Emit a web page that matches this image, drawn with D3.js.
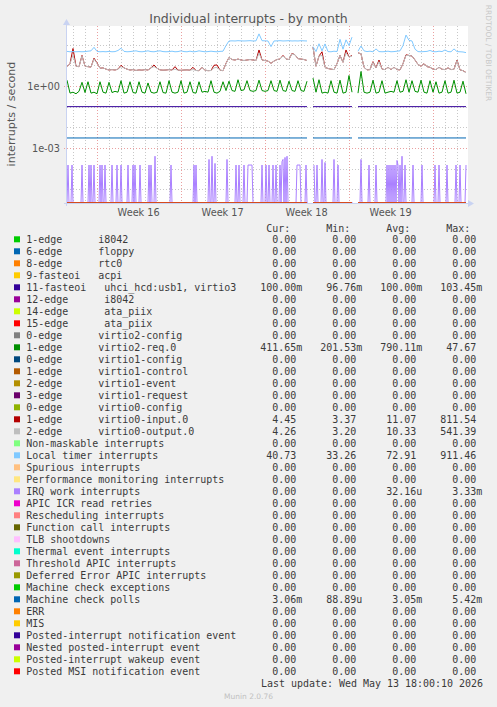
<!DOCTYPE html>
<html><head><meta charset="utf-8">
<script src="https://cdn.jsdelivr.net/npm/d3@7"></script>
<style>
body{margin:0;background:#f0f0f0;}
svg{display:block;}
text{white-space:pre;}
</style>
</head><body>
<svg id="chart" width="497" height="707"></svg>
<script>
// ---------- DATA ----------
// 6-hourly samples starting Fri Apr 10 2026 12:40 UTC (null = no data)
const T0 = Date.UTC(2026, 3, 10, 12, 40);
const STEP6H = 6 * 3600 * 1000;
const STEP2H = 2 * 3600 * 1000;
const N2H = 400;

const virtio2Req = [1.9,0.45,0.5,0.42,0.55,1.5,0.48,1.6,0.45,0.5,
 0.42,1.6,0.5,0.45,1.5,0.48,0.55,0.5,1.8,0.45,
 0.5,1.6,0.48,0.45,1.6,0.5,0.45,1.4,0.5,0.45,
 0.5,1.6,0.48,0.45,1.8,0.5,0.45,0.5,1.8,0.45,
 0.5,1.6,0.48,0.45,1.6,0.5,0.55,0.5,1.8,0.5,
 0.45,0.55,1.6,0.6,1.7,0.6,0.55,2.0,0.6,0.65,
 1.8,0.6,0.55,0.6,1.9,0.6,0.55,0.6,1.8,0.6,
 0.55,1.9,0.6,0.55,1.7,0.6,0.55,1.8,0.6,0.55,
 1.7,null,2.4,0.5,2.0,0.45,0.5,0.45,1.8,0.5,
 0.45,1.9,0.45,0.5,3.2,0.5,null,0.45,5.0,0.5,
 0.45,0.5,1.9,0.45,0.5,1.8,0.45,0.5,0.55,0.5,
 1.8,0.5,0.55,2.0,0.5,1.8,0.55,0.5,1.9,0.5,
 0.45,1.8,0.5,1.6,0.45,0.5,1.8,0.45,0.5,1.9,
 0.45,0.5,1.7,0.42];

const virtio0Input = [8.6,12,65,9,8.6,30,9,8.6,8.2,22,
 13,7.2,7.5,6.5,5.9,6.2,5.9,6.5,10,7.5,
 6.5,5.9,6.2,5.6,6.0,5.8,6.2,5.9,7.5,10.4,
 7.2,6.0,5.8,5.9,6.2,5.9,8.6,5.8,5.7,5.9,
 6.0,5.8,8.0,5.6,5.5,8.0,5.8,5.5,5.6,10,
 10.4,5.8,5.5,12.5,24,19,18,20,18,17,
 18,19,18,17,55,18,17,16,12.5,16,
 19,20,30,20,19,38,32,21,20,19,
 17,null,75,9,28,45,8,7,6.5,6.2,
 12,30,14,55,25,30,null,40,36,8,
 6,6.2,15,7.5,18,6.5,6.2,8,6.2,8,
 6.2,6.0,12,32,30,28,18,11,9,12,
 8.6,8.0,6.5,6.2,8.0,6.4,6.2,7.5,6.2,6.4,
 18,6.0,5.5,4.45];

const virtio0Output = [8.6,12,32,9,8.6,28,9,8.6,8.2,20,
 12.5,7.2,7.5,6.5,5.9,6.2,5.9,6.5,8.6,7.5,
 6.5,5.9,6.2,5.6,6.0,5.8,6.2,5.9,7.5,8.6,
 7.2,6.0,5.8,5.9,6.2,5.9,6.5,5.8,5.7,5.9,
 6.0,5.8,6.2,5.6,5.5,8.0,5.8,5.5,5.6,7.5,
 8.0,5.8,5.5,12,24,19,18,20,18,17,
 18,19,18,17,38,18,17,16,12.5,16,
 19,20,28,20,19,36,32,21,20,19,
 17,null,75,9,28,30,8,7,6.5,6.2,
 12,30,14,40,25,28,null,40,36,8,
 6,6.2,14,7.5,15,6.5,6.2,8,6.2,8,
 6.2,6.0,12,30,30,28,18,11,9,12,
 8.6,8.0,6.5,6.2,8.0,6.4,6.2,7.5,6.2,6.4,
 17,6.0,5.5,4.3];

const localTimer = [47,45,46,45,46,45,46,48,50,74,
 47,45,46,45,47,45,46,52,67,47,
 45,46,48,50,46,45,47,50,46,45,
 48,50,46,45,46,48,45,46,50,46,
 45,48,45,46,50,47,45,46,48,46,
 45,47,48,90,150,152,150,155,152,150,
 152,155,150,152,330,155,152,150,80,150,
 152,155,150,152,155,150,152,150,155,152,
 150,null,80,46,110,50,108,46,45,48,
 46,180,60,170,90,230,null,48,86,50,
 46,48,45,62,46,45,46,48,45,46,
 48,50,90,290,160,150,60,46,45,46,
 47,52,46,45,48,46,55,46,45,62,
 46,45,44,41];

// IRQ work interrupts: 2-hourly bins that are non-zero (all other bins read as 0)
const irqWorkBins = [1,5,15,22,24,27,33,35,38,45,50,54,61,66,68,73,82,84,88,104,127,129,142,145,148,160,169,172,177,181,182,183,184,185,195,199,202,206,209,213,215,216,218,220,230,231,232,233,239,247,250,255,258,267,271,294,302,309,320,322,324,326,328,330,331,333,335,338,346,355,368,372,380,389,393,399];
const irqWorkVals = [1.5e-4,1.5e-4,1.5e-4,1.5e-4,1.5e-4,1.5e-4,1.5e-4,1.5e-4,1.5e-4,1.5e-4,1.5e-4,1.5e-4,1.5e-4,1.5e-4,1.5e-4,1.5e-4,1.5e-4,1.5e-4,4e-4,1.5e-4,1.5e-4,1.5e-4,2.8e-4,4e-4,1.8e-4,2.8e-4,1.5e-4,1.5e-4,1.5e-4,1.5e-4,1.5e-4,1.5e-4,1.5e-4,1.5e-4,1.5e-4,1.5e-4,1.5e-4,1.5e-4,1.5e-4,1.5e-4,2.2e-4,2.8e-4,3.5e-4,4e-4,1.5e-4,1.5e-4,1.5e-4,1.5e-4,1.5e-4,1.5e-4,1.5e-4,2.8e-4,2e-4,2.8e-4,1.5e-4,2.8e-4,1.5e-4,1.5e-4,1.5e-4,1.5e-4,1.5e-4,1.5e-4,1.5e-4,2.5e-4,1.5e-4,1.5e-4,4e-4,1.5e-4,1.5e-4,1.5e-4,1.5e-4,1.5e-4,1.5e-4,1.5e-4,1.5e-4,1.5e-4];
const gaps2h = [[242,246],[287,290]];

// Flat series: segments (6h index ranges) with their level
const flatSegments = [[0,80],[82,95],[97,133]];
const irq11Levels = [0.1, 0.1, 0.1];
const mcePollsLevels = [3.05e-3, 3.05e-3, 3.06e-3];

// Legend
const legendLabels = [
"1-edge      i8042","6-edge      floppy","8-edge      rtc0","9-fasteoi   acpi",
"11-fasteoi   uhci_hcd:usb1, virtio3","12-edge      i8042","14-edge      ata_piix","15-edge      ata_piix",
"0-edge      virtio2-config","1-edge      virtio2-req.0","0-edge      virtio1-config","1-edge      virtio1-control",
"2-edge      virtio1-event","3-edge      virtio1-request","0-edge      virtio0-config","1-edge      virtio0-input.0",
"2-edge      virtio0-output.0","Non-maskable interrupts","Local timer interrupts","Spurious interrupts",
"Performance monitoring interrupts","IRQ work interrupts","APIC ICR read retries","Rescheduling interrupts",
"Function call interrupts","TLB shootdowns","Thermal event interrupts","Threshold APIC interrupts",
"Deferred Error APIC interrupts","Machine check exceptions","Machine check polls","ERR","MIS",
"Posted-interrupt notification event","Nested posted-interrupt event","Posted-interrupt wakeup event","Posted MSI notification event"];
const legendColors = ["#00CC00","#0066B3","#FF8000","#FFCC00","#330099","#990099","#CCFF00","#FF0000","#808080","#008F00","#00487D","#B35A00","#B38F00","#6B006B","#8FB300","#B30000","#BEBEBE","#80FF80","#80C9FF","#FFC080","#FFE680","#AA80FF","#EE00CC","#FF8080","#666600","#FFBFFF","#00FFCC","#CC6699","#999900","#00CC00","#0066B3","#FF8000","#FFCC00","#330099","#990099","#CCFF00","#FF0000"];
const curVals = ["0.00","0.00","0.00","0.00","100.00m","0.00","0.00","0.00","0.00","411.65m","0.00","0.00","0.00","0.00","0.00","4.45","4.26","0.00","40.73","0.00","0.00","0.00","0.00","0.00","0.00","0.00","0.00","0.00","0.00","0.00","3.06m","0.00","0.00","0.00","0.00","0.00","0.00"];
const minVals = ["0.00","0.00","0.00","0.00","96.76m","0.00","0.00","0.00","0.00","201.53m","0.00","0.00","0.00","0.00","0.00","3.37","3.20","0.00","33.26","0.00","0.00","0.00","0.00","0.00","0.00","0.00","0.00","0.00","0.00","0.00","88.89u","0.00","0.00","0.00","0.00","0.00","0.00"];
const avgVals = ["0.00","0.00","0.00","0.00","100.00m","0.00","0.00","0.00","0.00","790.11m","0.00","0.00","0.00","0.00","0.00","11.07","10.33","0.00","72.91","0.00","0.00","32.16u","0.00","0.00","0.00","0.00","0.00","0.00","0.00","0.00","3.05m","0.00","0.00","0.00","0.00","0.00","0.00"];
const maxVals = ["0.00","0.00","0.00","0.00","103.45m","0.00","0.00","0.00","0.00","47.67","0.00","0.00","0.00","0.00","0.00","811.54","541.39","0.00","911.46","0.00","0.00","3.33m","0.00","0.00","0.00","0.00","0.00","0.00","0.00","0.00","5.42m","0.00","0.00","0.00","0.00","0.00","0.00"];
const columnHeaders = ["Cur:","Min:","Avg:","Max:"];
const yTickValues = [1e-3, 1];
const yTickLabels = ["1e-03","1e+00"];

// ---------- CHART ----------
const svg = d3.select("#chart");
const P = {l:67, r:466, t:26, b:203};
const tStart = new Date(T0), tEnd = new Date(T0 + (N2H - 1) * STEP2H);
const x = d3.scaleTime().domain([tStart, tEnd]).range([P.l, P.r]);
const yMin = Math.pow(10, -5.66), yMax = Math.pow(10, 2.9);
const y = d3.scaleLog().domain([yMin, yMax]).range([P.b, P.t]).clamp(true);

svg.append("rect").attr("width", 497).attr("height", 707).attr("fill", "#f0f0f0");
svg.append("rect").attr("x", P.l).attr("y", P.t).attr("width", P.r - P.l + 2).attr("height", P.b - P.t).attr("fill", "#ffffff");

const grid = svg.append("g");
// horizontal grid (decades)
const decades = d3.range(-5, 3).map(e => Math.pow(10, e));
decades.forEach((v, k) => {
  const e = k - 5;
  const major = e % 3 === 0;
  const yy = Math.round(y(v)) + 0.5;
  grid.append("line").attr("x1", major ? P.l - 3 : P.l).attr("x2", P.r + 2).attr("y1", yy).attr("y2", yy)
    .attr("stroke", major ? "#eaa0a0" : "#c8c8c8").attr("stroke-width", 1).attr("stroke-dasharray", "1,2");
});
// vertical grid (days, mondays major)
const days = d3.utcDay.range(d3.utcDay.ceil(tStart), tEnd);
days.forEach(d => {
  const major = d.getUTCDay() === 1;
  const xx = Math.round(x(d)) + 0.5;
  grid.append("line").attr("x1", xx).attr("x2", xx).attr("y1", P.t).attr("y2", major ? P.b + 3 : P.b)
    .attr("stroke", major ? "#eaa0a0" : "#c8c8c8").attr("stroke-width", 1).attr("stroke-dasharray", "1,2");
});

// axes (pale)
const axisCol = "#c9d3f2";
svg.append("line").attr("x1", P.l - 0.5).attr("x2", P.l - 0.5).attr("y1", P.b + 3).attr("y2", P.t - 3).attr("stroke", axisCol);
svg.append("path").attr("d", `M${P.l-4},${P.t-1}L${P.l+3},${P.t-1}L${P.l-0.5},${P.t-7}Z`).attr("fill", axisCol);
svg.append("line").attr("x1", P.l - 3).attr("x2", P.r + 4).attr("y1", P.b + 0.5).attr("y2", P.b + 0.5).attr("stroke", axisCol);
svg.append("path").attr("d", `M${P.r+2},${P.b-3}L${P.r+2},${P.b+4}L${P.r+8},${P.b+0.5}Z`).attr("fill", axisCol);

// y tick labels
svg.selectAll(".ytl").data(yTickValues).enter().append("text")
  .attr("x", 60).attr("y", d => y(d) + 3.6).attr("text-anchor", "end")
  .attr("font-family", "DejaVu Sans").attr("font-size", 9.72).attr("fill", "#555")
  .text((d, i) => yTickLabels[i]);

// week labels
const mondays = d3.utcMonday.range(d3.utcMonday.floor(tStart), tEnd);
const wk = d3.utcFormat("%V");
mondays.forEach(m => {
  const c = new Date(+m + 3.5 * 864e5);
  if (c < tStart || c > tEnd) return;
  svg.append("text").attr("x", x(c)).attr("y", 216).attr("text-anchor", "middle")
    .attr("font-family", "DejaVu Sans").attr("font-size", 9.72).attr("fill", "#555").text("Week " + (+wk(m)));
});

// data lines
svg.append("clipPath").attr("id", "clip").append("rect").attr("x", P.l).attr("y", P.t - 1).attr("width", P.r - P.l + 2).attr("height", P.b - P.t + 1);
const plot = svg.append("g").attr("clip-path", "url(#clip)");
const line = d3.line().defined(d => d.v !== null)
  .x(d => x(d.t)).y(d => y(Math.max(d.v, yMin)));
const series6h = arr => arr.map((v, i) => ({t: new Date(T0 + i * STEP6H), v}));
const flatSeries = levels => {
  const pts = [];
  flatSegments.forEach((s, k) => {
    pts.push({t: new Date(T0 + s[0] * STEP6H), v: levels[k]});
    pts.push({t: new Date(T0 + s[1] * STEP6H), v: levels[k]});
    pts.push({t: new Date(T0 + s[1] * STEP6H), v: null});
  });
  return pts;
};
const zeroSeries = () => flatSeries(flatSegments.map(() => 0));
const irqWorkSeries = () => {
  const m = new Map(irqWorkBins.map((b, i) => [b, irqWorkVals[i]]));
  return d3.range(N2H).map(b => {
    const inGap = gaps2h.some(g => b >= g[0] && b <= g[1]);
    return {t: new Date(T0 + b * STEP2H), v: inGap ? null : (m.get(b) || 0)};
  });
};
const seriesData = legendLabels.map((lab, i) => {
  if (i === 4) return flatSeries(irq11Levels);
  if (i === 9) return series6h(virtio2Req);
  if (i === 15) return series6h(virtio0Input);
  if (i === 16) return series6h(virtio0Output);
  if (i === 18) return series6h(localTimer);
  if (i === 21) return irqWorkSeries();
  if (i === 30) return flatSeries(mcePollsLevels);
  return zeroSeries();
});
seriesData.forEach((d, i) => {
  plot.append("path").datum(d).attr("d", line).attr("fill", "none")
    .attr("stroke", legendColors[i]).attr("stroke-width", 1);
});

// title
svg.append("text").attr("x", 248.5).attr("y", 22.5).attr("text-anchor", "middle")
  .attr("font-family", "DejaVu Sans").attr("font-size", 12.5).attr("fill", "#555")
  .text("Individual interrupts - by month");
// y axis label
svg.append("text").attr("transform", "translate(15,114) rotate(-90)").attr("text-anchor", "middle")
  .attr("font-family", "DejaVu Sans").attr("font-size", 11.1).attr("fill", "#555")
  .text("interrupts / second");
// watermark
svg.append("text").attr("transform", "translate(485.5,53) rotate(90)").attr("text-anchor", "middle")
  .attr("font-family", "DejaVu Sans").attr("font-size", 7.5).attr("fill", "#c8c8c8")
  .text("RRDTOOL / TOBI OETIKER");

// legend
const LX = 26.3, CW = 6.0, FS = 9.97, ROW0 = 243.3, RH = 12;
const lg = svg.append("g").attr("font-family", "DejaVu Sans Mono").attr("font-size", FS).attr("fill", "#3a3a3a");
const hdrEnd = [44, 54, 64, 74];
columnHeaders.forEach((h, k) => lg.append("text").attr("x", LX + (hdrEnd[k] - h.length) * CW).attr("y", 231.6).text(h));
const colEnd = [45, 55, 65, 75];
const numLen = s => /[a-z]$/.test(s) ? s.length - 1 : s.length;
legendLabels.forEach((lab, i) => {
  const yb = ROW0 + i * RH;
  svg.append("rect").attr("x", 14).attr("y", yb - 7).attr("width", 6).attr("height", 6).attr("fill", legendColors[i]);
  lg.append("text").attr("x", LX).attr("y", yb).text(lab);
  [curVals[i], minVals[i], avgVals[i], maxVals[i]].forEach((s, k) => {
    lg.append("text").attr("x", LX + (colEnd[k] - numLen(s)) * CW).attr("y", yb).text(s);
  });
});
lg.append("text").attr("x", 483).attr("y", 687.3).attr("text-anchor", "end").text("Last update: Wed May 13 18:00:10 2026");
svg.append("text").attr("x", 248.5).attr("y", 698.5).attr("text-anchor", "middle")
  .attr("font-family", "DejaVu Sans").attr("font-size", 7.5).attr("fill", "#c0c0c0").text("Munin 2.0.76");
</script>
</body></html>
